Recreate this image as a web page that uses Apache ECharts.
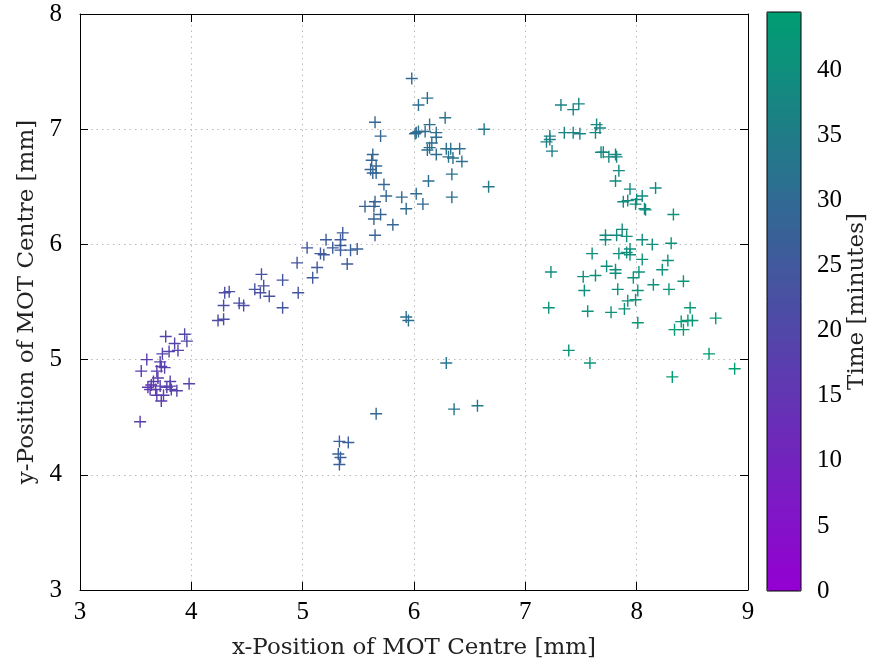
<!DOCTYPE html>
<html>
<head>
<meta charset="utf-8">
<script src="https://cdn.jsdelivr.net/npm/echarts@6/dist/echarts.min.js"></script>
<style>
html,body{margin:0;padding:0;background:#fff;}
#chart{width:878px;height:669px;}
</style>
</head>
<body>
<div id="chart"></div>
<script>
// x-position of MOT centre [mm]
const xPos = [3.54,3.55,3.60,3.61,3.63,3.64,3.66,3.68,3.69,3.69,3.70,3.72,3.72,3.73,3.73,3.74,3.75,3.76,3.77,3.78,3.80,3.81,3.81,3.82,3.85,3.87,3.88,3.94,3.96,3.98,
 4.24,4.29,4.29,4.30,4.34,4.43,4.47,4.57,4.62,4.65,4.63,4.70,4.82,4.82,4.96,4.95,5.04,5.09,5.13,5.16,5.19,5.21,5.27,5.34,5.34,5.34,5.36,5.40,5.43,5.49,
 5.33,5.41,5.32,5.34,5.33,5.66,
 5.56,5.64,5.65,5.64,5.70,5.65,5.81,5.73,5.75,5.63,5.62,5.66,5.61,5.63,5.66,5.65,5.70,5.89,5.93,6.02,6.08,6.13,5.93,5.95,
 5.98,6.12,6.04,6.28,6.14,6.02,6.04,6.10,6.20,6.01,6.20,6.16,6.14,6.12,6.29,6.33,6.41,6.20,6.31,6.35,6.43,6.34,6.34,6.63,6.67,6.29,6.36,6.57,
 7.32,7.43,7.48,7.64,7.67,7.63,7.35,7.43,7.49,7.22,7.22,7.19,7.24,7.68,7.70,7.75,7.82,7.81,7.84,7.81,7.94,8.17,8.05,8.00,7.92,7.88,7.99,8.07,8.08,8.33,
 7.87,7.72,7.82,7.91,7.72,8.05,8.14,8.31,7.60,7.84,7.91,7.94,7.94,8.05,8.28,7.23,7.73,7.81,7.81,7.52,7.63,8.02,7.97,8.23,8.42,8.15,7.53,7.83,8.01,8.29,
 7.92,7.99,7.21,7.56,7.77,7.89,8.48,8.40,8.46,8.50,8.71,8.01,8.34,8.42,7.39,8.65,7.58,8.88,8.32];
// y-position of MOT centre [mm]
const yPos = [4.46,4.90,5.00,4.76,4.74,4.78,4.81,4.74,4.69,4.90,4.84,4.77,4.98,4.94,4.64,5.05,4.69,4.93,5.20,4.76,5.07,4.81,4.77,4.74,5.14,4.73,5.08,5.22,5.16,4.79,
 5.34,5.35,5.47,5.58,5.59,5.49,5.47,5.61,5.58,5.64,5.74,5.55,5.69,5.45,5.58,5.84,5.97,5.71,5.80,5.92,5.91,6.04,5.97,5.99,5.95,6.04,6.10,5.83,5.95,5.96,
 4.29,4.28,4.18,4.15,4.09,4.53,
 6.33,6.33,6.37,6.22,6.26,6.08,6.17,6.52,6.42,6.78,6.73,6.68,6.65,6.62,6.62,7.06,6.94,6.41,6.31,6.44,6.35,6.55,5.37,5.34,
 7.44,7.27,7.21,7.10,7.04,6.97,6.98,6.98,6.97,6.96,6.93,6.88,6.84,6.82,6.83,6.83,6.83,6.78,6.76,6.75,6.72,6.61,6.41,7.00,6.50,4.97,4.57,4.60,
 7.21,7.17,7.22,7.04,7.01,6.97,6.97,6.97,6.96,6.94,6.91,6.89,6.81,6.80,6.80,6.76,6.76,6.78,6.64,6.55,6.48,6.49,6.42,6.39,6.38,6.37,6.35,6.31,6.30,6.26,
 6.13,6.08,6.08,6.07,6.04,6.04,6.00,6.01,5.92,5.92,5.93,5.96,5.91,5.87,5.86,5.76,5.81,5.78,5.75,5.72,5.73,5.76,5.71,5.78,5.68,5.65,5.60,5.61,5.60,5.61,
 5.51,5.52,5.45,5.42,5.41,5.44,5.45,5.33,5.34,5.34,5.36,5.32,5.26,5.26,5.08,5.05,4.97,4.92,4.85];
// time [minutes]
const timeMin = [18,17,17,16,16,16,17,17,17,18,17,18,18,18,17,19,18,18,19,18,19,19,18,19,19,19,19,20,20,20,
 21,21,21,22,22,22,22,23,23,23,23,23,24,24,24,24,25,25,25,25,25,26,26,26,26,26,26,26,27,27,
 27,27,27,27,27,29,
 28,28,28,28,28,28,29,29,29,29,29,29,29,29,29,29,29,30,30,30,30,31,31,31,
 30,31,31,32,31,30,31,31,31,30,31,31,31,31,32,32,32,31,32,32,32,32,32,34,34,33,33,34,
 37,37,37,38,38,38,37,37,37,36,36,36,36,38,38,38,38,38,39,39,39,40,39,39,39,39,39,40,40,41,
 39,39,39,40,39,40,40,41,40,40,40,40,40,41,41,40,40,40,40,40,40,41,41,41,42,41,41,41,41,42,
 41,41,41,41,41,41,43,43,43,43,44,42,43,43,42,44,42,44.5,44];
// axis ticks
const xTicks = [3,4,5,6,7,8,9];
const yTicks = [3,4,5,6,7,8];
const cbTicks = [0,5,10,15,20,25,30,35,40];
const cbMax = 44.5;

const points = xPos.map((x,i)=>[x, yPos[i], timeMin[i]]);
const FONT = 'Liberation Serif';
const NFONT = 'DejaVu Serif';
const FS = 25;
const NFS = 23;
const plus = 'path://M5.3,0 H6.7 V5.3 H12 V6.7 H6.7 V12 H5.3 V6.7 H0 V5.3 H5.3 Z';

const chart = echarts.init(document.getElementById('chart'), null, {renderer:'canvas'});
const gridLine = {show:true, lineStyle:{color:'#bbbbbb', type:[1.5,4], width:1}};
const tickIn = {show:true, inside:true, length:8, lineStyle:{color:'#000', width:1}};
const nameStyle = {fontSize:NFS, color:'#222', fontFamily:NFONT, fontWeight:'lighter'};
chart.setOption({
  animation:false,
  backgroundColor:'#fff',
  textStyle:{fontFamily:FONT},
  grid:[
    {left:80, top:14, width:668, height:576, show:false},
    {left:767, top:12, width:34, height:579, show:true, borderColor:'#000', borderWidth:1, backgroundColor:'transparent', z:10}
  ],
  xAxis:[
    {gridIndex:0, type:'value', min:xTicks[0], max:xTicks[xTicks.length-1], interval:1, position:'bottom',
     name:'x-Position of MOT Centre [mm]', nameLocation:'middle', nameGap:47,
     nameTextStyle:nameStyle,
     axisLine:{show:true, onZero:false, lineStyle:{color:'#000', width:1}},
     axisTick:tickIn, splitLine:gridLine,
     axisLabel:{fontSize:FS, color:'#000', margin:10, fontFamily:FONT}},
    {gridIndex:0, type:'value', min:xTicks[0], max:xTicks[xTicks.length-1], interval:1, position:'top',
     axisLine:{show:true, onZero:false, lineStyle:{color:'#000', width:1}},
     axisTick:tickIn, splitLine:{show:false}, axisLabel:{show:false}},
    {gridIndex:1, type:'value', min:0, max:1, show:false}
  ],
  yAxis:[
    {gridIndex:0, type:'value', min:yTicks[0], max:yTicks[yTicks.length-1], interval:1, position:'left',
     name:'y-Position of MOT Centre [mm]', nameLocation:'middle', nameGap:39, nameRotate:90,
     nameTextStyle:nameStyle,
     axisLine:{show:true, onZero:false, lineStyle:{color:'#000', width:1}},
     axisTick:tickIn, splitLine:gridLine,
     axisLabel:{fontSize:FS, color:'#000', margin:18, fontFamily:FONT}},
    {gridIndex:0, type:'value', min:yTicks[0], max:yTicks[yTicks.length-1], interval:1, position:'right',
     axisLine:{show:true, onZero:false, lineStyle:{color:'#000', width:1}},
     axisTick:tickIn, splitLine:{show:false}, axisLabel:{show:false}},
    {gridIndex:1, type:'value', min:0, max:cbMax, interval:5, position:'right',
     name:'Time [minutes]', nameLocation:'middle', nameGap:42, nameRotate:90,
     nameTextStyle:nameStyle,
     axisLine:{show:false}, axisTick:{show:false}, splitLine:{show:false},
     axisLabel:{fontSize:FS, color:'#000', margin:16, fontFamily:FONT, showMaxLabel:false,
       formatter:(v)=> cbTicks.includes(v) ? String(v) : ''}}
  ],
  visualMap:{
    type:'continuous', min:0, max:cbMax, dimension:2, seriesIndex:0,
    left:767, top:12, itemWidth:34, itemHeight:579, padding:0,
    calculable:false, text:null, showLabel:false,
    inRange:{color:['#9400d3','#009e73']}
  },
  series:[
    {type:'scatter', xAxisIndex:0, yAxisIndex:0, data:points, symbol:plus, symbolSize:12,
     itemStyle:{opacity:1}}
  ]
});
</script>
</body>
</html>
